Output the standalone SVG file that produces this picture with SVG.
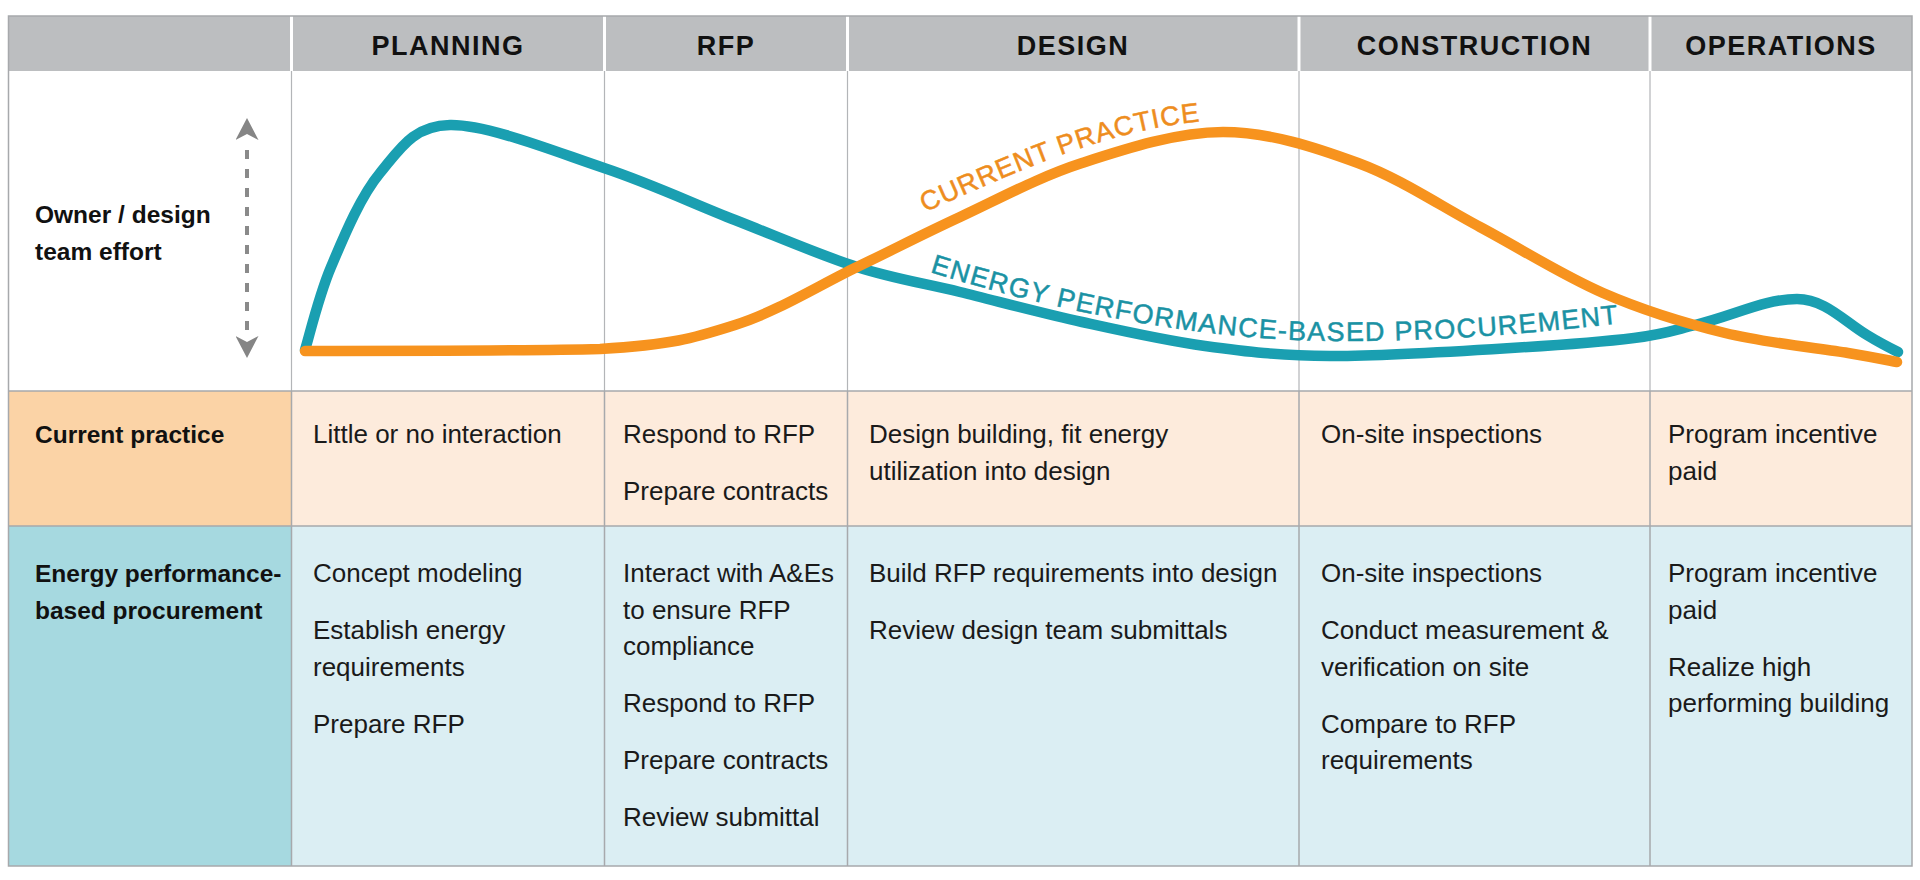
<svg xmlns="http://www.w3.org/2000/svg" width="1920" height="880" viewBox="0 0 1920 880">
<style>
  .hdr{font-family:"Liberation Sans",Arial,sans-serif;font-weight:700;font-size:27px;letter-spacing:1.5px;text-anchor:middle;fill:#111}
  .lbl{font-family:"Liberation Sans",Arial,sans-serif;font-weight:700;font-size:24.5px;fill:#111}
  .cell{font-family:"Liberation Sans",Arial,sans-serif;font-size:26px;fill:#1a1a1a}
  .grid{stroke:#a7a9ac;stroke-width:1.5;fill:none}
  .gridc{stroke:#b3b5b8;stroke-width:1.2;fill:none}
  .sep{stroke:#ffffff;stroke-width:3}
  .curve{fill:none;stroke-width:10.5;stroke-linecap:round;stroke-linejoin:round}
  .curvelbl{font-family:"Liberation Sans",Arial,sans-serif;font-size:27px;stroke-width:0.5}
</style>
<defs>
  <marker id="arrowHead" viewBox="0 0 22 23" markerWidth="22" markerHeight="23" refX="0" refY="11.5" orient="auto-start-reverse" markerUnits="userSpaceOnUse">
    <path d="M0,0 L22,11.5 L0,23 L6,11.5 Z" fill="#858585"/>
  </marker>
  <path id="cpTextPath" d="M925,212 C1000,180 1100,130 1205,121"/>
  <path id="epTextPath" d="M930,272 C1050,310 1200,340 1330,341 S1560,330 1650,320"/>
</defs>

<rect width="1920" height="880" fill="#ffffff"/>

<!-- backgrounds -->
<g id="backgrounds">
  <rect x="8.5" y="16" width="1903.5" height="55" fill="#bcbec0"/>
  <rect x="8.5" y="71" width="1903.5" height="320" fill="#ffffff"/>
  <rect x="8.5" y="391" width="283" height="135" fill="#fbd3a6"/>
  <rect x="291.5" y="391" width="1620.5" height="135" fill="#fdebdc"/>
  <rect x="8.5" y="526" width="283" height="340" fill="#a6d9e0"/>
  <rect x="291.5" y="526" width="1620.5" height="340" fill="#dbeef3"/>
</g>

<!-- grid -->
<g id="grid">
  <line class="sep" x1="291.5" y1="16" x2="291.5" y2="71"/>
  <line class="sep" x1="604.5" y1="16" x2="604.5" y2="71"/>
  <line class="sep" x1="847.5" y1="16" x2="847.5" y2="71"/>
  <line class="sep" x1="1299" y1="16" x2="1299" y2="71"/>
  <line class="sep" x1="1650" y1="16" x2="1650" y2="71"/>
  <path class="gridc" d="M291.5,71 V391 M604.5,71 V391 M847.5,71 V391 M1299,71 V391 M1650,71 V391"/>
  <path class="grid" d="M291.5,391 V866 M604.5,391 V866 M847.5,391 V866 M1299,391 V866 M1650,391 V866 M8.5,391 H1912 M8.5,526 H1912"/>
  <rect class="grid" x="8.5" y="16" width="1903.5" height="850"/>
</g>

<!-- header -->
<g id="header">
  <text class="hdr" x="448" y="55">PLANNING</text>
  <text class="hdr" x="726" y="55">RFP</text>
  <text class="hdr" x="1073" y="55">DESIGN</text>
  <text class="hdr" x="1474.5" y="55">CONSTRUCTION</text>
  <text class="hdr" x="1781" y="55">OPERATIONS</text>
</g>

<!-- effort axis -->
<g id="effort-axis">
  <text class="lbl" x="35" y="223">Owner / design</text>
  <text class="lbl" x="35" y="260">team effort</text>
  <line x1="247" y1="140" x2="247" y2="336" stroke="#8a8a8a" stroke-width="4" stroke-dasharray="9 10" stroke-dashoffset="9" marker-start="url(#arrowHead)" marker-end="url(#arrowHead)"/>
</g>

<!-- curves -->
<g id="curves">
  <path id="curve-epbp" class="curve" stroke="#1a9fb1" d="M305,350 C309.3,336.2 318.5,296.5 331,267 C343.5,237.5 360.2,196.7 380,173 C399.8,149.3 412.7,125.8 450,125 C487.3,124.2 556.5,152.2 604,168 C651.5,183.8 692.8,203.5 735,220 C777.2,236.5 819.5,255 857,267 C894.5,279 922.5,282.8 960,292 C997.5,301.2 1041.2,313 1082,322 C1122.8,331 1163.7,340.3 1205,346 C1246.3,351.7 1279,355.7 1330,356 C1381,356.3 1460.3,351.2 1511,348 C1561.7,345 1603.3,341.8 1634,338 C1664.7,334.2 1674.7,330 1695,325 C1735,315.2 1765,299 1797,299 C1825,299 1845,322 1867,335 C1880,343 1892,349 1898,352"/>
  <path id="curve-current" class="curve" stroke="#f7931e" d="M305,351 C354,351 528,351 600,349 C671.7,344.7 692.2,338.7 735,325 C777.8,311.3 819.5,285 857,267 C894.5,249 922.5,234.3 960,217 C997.5,199.7 1038.2,177.2 1082,163 C1125.8,148.8 1177,132 1223,132 C1269,132 1315.2,147.2 1358,163 C1400.8,178.8 1439.2,205.3 1480,227 C1520.8,248.7 1562.2,275.3 1603,293 C1643.8,310.7 1684.2,323 1725,333 C1765.8,343 1819.3,348.2 1848,353 C1876.7,357.8 1888.8,360.5 1897,362"/>
  <text class="curvelbl" fill="#ee8d1e" stroke="#ee8d1e" letter-spacing="1"><textPath href="#cpTextPath">CURRENT PRACTICE</textPath></text>
  <text class="curvelbl" fill="#1a92a4" stroke="#1a92a4" font-size="26.5" letter-spacing="1.3"><textPath href="#epTextPath">ENERGY PERFORMANCE-BASED PROCUREMENT</textPath></text>
</g>

<!-- current practice row -->
<g id="row-current-label"><text class="lbl" x="35" y="443">Current practice</text></g>
<g id="cp-planning"><text class="cell" x="313" y="443">Little or no interaction</text></g>
<g id="cp-rfp">
  <text class="cell" x="623" y="443">Respond to RFP</text>
  <text class="cell" x="623" y="500">Prepare contracts</text>
</g>
<g id="cp-design">
  <text class="cell" x="869" y="443">Design building, fit energy</text>
  <text class="cell" x="869" y="479.5">utilization into design</text>
</g>
<g id="cp-construction"><text class="cell" x="1321" y="443">On-site inspections</text></g>
<g id="cp-operations">
  <text class="cell" x="1668" y="443">Program incentive</text>
  <text class="cell" x="1668" y="479.5">paid</text>
</g>

<!-- energy performance-based procurement row -->
<g id="row-epbp-label">
  <text class="lbl" x="35" y="582">Energy performance-</text>
  <text class="lbl" x="35" y="618.5">based procurement</text>
</g>
<g id="ep-planning">
  <text class="cell" x="313" y="582">Concept modeling</text>
  <text class="cell" x="313" y="639">Establish energy</text>
  <text class="cell" x="313" y="675.5">requirements</text>
  <text class="cell" x="313" y="732.5">Prepare RFP</text>
</g>
<g id="ep-rfp">
  <text class="cell" x="623" y="582">Interact with A&amp;Es</text>
  <text class="cell" x="623" y="618.5">to ensure RFP</text>
  <text class="cell" x="623" y="655">compliance</text>
  <text class="cell" x="623" y="712">Respond to RFP</text>
  <text class="cell" x="623" y="769">Prepare contracts</text>
  <text class="cell" x="623" y="826">Review submittal</text>
</g>
<g id="ep-design">
  <text class="cell" x="869" y="582">Build RFP requirements into design</text>
  <text class="cell" x="869" y="639">Review design team submittals</text>
</g>
<g id="ep-construction">
  <text class="cell" x="1321" y="582">On-site inspections</text>
  <text class="cell" x="1321" y="639">Conduct measurement &amp;</text>
  <text class="cell" x="1321" y="675.5">verification on site</text>
  <text class="cell" x="1321" y="732.5">Compare to RFP</text>
  <text class="cell" x="1321" y="769">requirements</text>
</g>
<g id="ep-operations">
  <text class="cell" x="1668" y="582">Program incentive</text>
  <text class="cell" x="1668" y="618.5">paid</text>
  <text class="cell" x="1668" y="675.5">Realize high</text>
  <text class="cell" x="1668" y="712">performing building</text>
</g>
</svg>
